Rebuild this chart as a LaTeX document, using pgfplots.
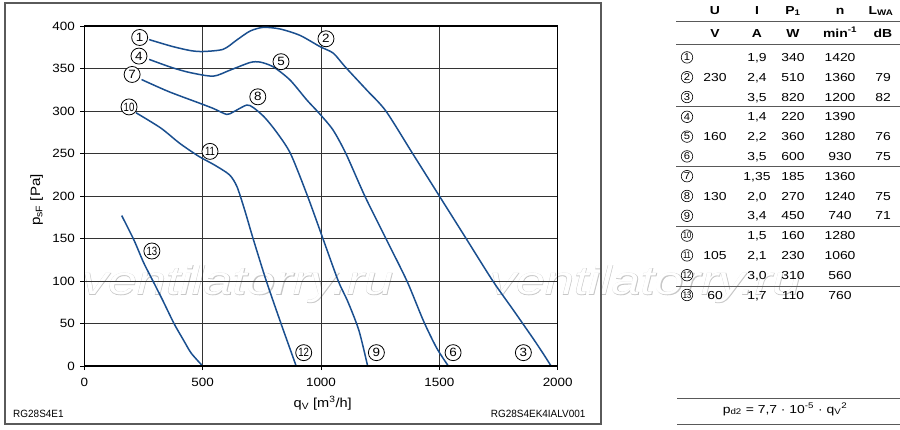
\documentclass[border=0pt]{standalone}
\usepackage{fontspec}
\setmainfont{Liberation Sans}[FakeStretch=1.12]
\newfontfamily\tabfont{Liberation Sans}[FakeStretch=1.2]
\newfontfamily\narrowfont{Liberation Sans}[FakeStretch=0.8]
\newfontfamily\codefont{Liberation Sans}[FakeStretch=0.95]
\newfontfamily\wmfont{Liberation Sans}[FakeStretch=1.3]
\newfontfamily\wmboldfont{Liberation Sans}[FakeStretch=1.3,FakeBold=2]
\usepackage{pgfplots}
\pgfplotsset{compat=1.18}
\definecolor{curve}{HTML}{1A4F8F}
\definecolor{framegray}{HTML}{5A5A5A}

\newcommand\tcircnum[1]{\ifnum#1>9 {\narrowfont\fontsize{9.5}{9.5}\selectfont#1}\else{\fontsize{10}{10}\selectfont#1}\fi}
\newcommand\trow[6]{%
  \pgfmathsetmacro\yc{429-(57.4+(#1-1)*19.8)}%
  \pgfmathsetmacro\yb{\yc-4.2}%
  \node[tcirc] at (687,\yc) {\tcircnum{#1}};
  \node[tx] at (715,\yb) {#2};
  \node[tx] at (757,\yb) {#3};
  \node[tx] at (793,\yb) {#4};
  \node[tx] at (840,\yb) {#5};
  \node[tx] at (883,\yb) {#6};
}

\begin{document}
\begin{tikzpicture}[x=1pt,y=1pt,
  tx/.style={anchor=base, inner sep=0pt, font=\tabfont\fontsize{11.6}{13}\selectfont},
  th/.style={anchor=base, inner sep=0pt, font=\tabfont\bfseries\fontsize{11.6}{13}\selectfont},
  tcirc/.style={circle, draw=black, line width=0.6pt, inner sep=0pt, minimum size=11.5pt},
  clab/.style={circle, draw=black, fill=white, line width=0.8pt, inner sep=0pt, minimum size=16pt, font=\fontsize{12}{12}\selectfont},
  clabb/.style={clab, font=\narrowfont\fontsize{12}{12}\selectfont}]
\useasboundingbox (0,0) rectangle (900,429);
\fill[white] (0,0) rectangle (900,429);

% watermark
\foreach \wx in {82,490}{
  \node[anchor=base west, inner sep=0pt, text=black!22, font=\wmboldfont\itshape\fontsize{40}{40}\selectfont] at (\wx,134.5) {ventilatorry.ru};
  \node[anchor=base west, inner sep=0pt, text=white, font=\wmfont\itshape\fontsize{40}{40}\selectfont] at (\wx,134.5) {ventilatorry.ru};
}

% frame
\draw[framegray, line width=1.6pt] (5,426) rectangle (601,5);

\begin{axis}[
  at={(84.3pt,63pt)}, anchor=south west,
  scale only axis, width=473.4pt, height=340pt,
  xmin=0, xmax=2000, ymin=0, ymax=400,
  xtick={0,500,...,2000}, ytick={0,50,...,400},
  grid=major,
  major grid style={black!80, line width=0.9pt},
  axis line style={black, line width=1.1pt},
  tick align=outside, tick pos=left,
  major tick length=4pt,
  tick style={black, line width=0.9pt},
  ticklabel style={font=\fontsize{12}{14}\selectfont},
  xticklabel style={yshift=-5pt},
  yticklabel style={xshift=-2pt},
  /pgf/number format/assume math mode=true,
  /pgf/number format/1000 sep={},
  clip=false,
]
\addplot[curve, line width=1.5pt, smooth, tension=0.45] coordinates {
(274,384) (371,376) (450,371) (503,370) (587,372.6) (644,383.5) (700,394) (756,398.4) (827,396.5) (911,389) (996,375.7) (1052,368) (1102,352) (1193,324.7) (1274,300) (1387,250) (1500,200) (1613,150) (1726,100) (1812,66) (1897,32) (1940,14) (1972,0)};
\addplot[curve, line width=1.5pt, smooth, tension=0.45] coordinates {
(274,360.7) (371,351) (450,345) (545,341) (615,348) (700,357) (742,357.6) (798,352) (869,336.5) (940,313) (990,298) (1050,278) (1105,250) (1185,200) (1274,150) (1363,100) (1433,53) (1489,21) (1538,0)};
\addplot[curve, line width=1.5pt, smooth, tension=0.45] coordinates {
(242,337) (355,323) (484,309.5) (545,303) (601.6,296) (630,299) (686,307) (714,304) (760,293) (810,276) (871,250) (943,200) (1008,150) (1073,100) (1113,76) (1160,42) (1197,0)};
\addplot[curve, line width=1.5pt, smooth, tension=0.45] coordinates {
(218,298) (323,280) (403,262) (484,246.6) (548,236.8) (613,225) (645,211) (677,184) (713,150) (769,100) (831,50) (895,0)};
\addplot[curve, line width=1.5pt, smooth, tension=0.45] coordinates {
(158,177) (210,148) (250,122) (290,100) (330,78) (379,50) (420,30) (452,15) (500,0)};
\draw[black, line width=2pt] (axis cs:0,0) -- (axis cs:2000,0);

\node[clab] at (axis cs:234,386.5) {1};
\node[clab] at (axis cs:1021,385) {2};
\node[clab] at (axis cs:1855,15.7) {3};
\node[clab] at (axis cs:231,364.6) {4};
\node[clab] at (axis cs:831,358) {5};
\node[clab] at (axis cs:1558,15.7) {6};
\node[clab] at (axis cs:202,343) {7};
\node[clab] at (axis cs:733,316.7) {8};
\node[clab] at (axis cs:1234,15.7) {9};
\node[clabb] at (axis cs:189,304.8) {10};
\node[clabb] at (axis cs:531,252.5) {11};
\node[clabb] at (axis cs:927,15.7) {12};
\node[clabb] at (axis cs:285.5,135.3) {13};
\end{axis}

% axis labels
\node[rotate=90, inner sep=0pt, font=\fontsize{13.5}{14}\selectfont] at (36.7,229) {p\textsubscript{sF} [Pa]};
\node[inner sep=0pt, font=\fontsize{13}{14}\selectfont] at (322.7,26) {q\textsubscript{V} [m\textsuperscript{3}/h]};
\node[anchor=base west, inner sep=0pt, font=\codefont\fontsize{10.5}{12}\selectfont] at (13,12) {RG28S4E1};
\node[anchor=base east, inner sep=0pt, font=\codefont\fontsize{10.5}{12}\selectfont] at (585.7,12) {RG28S4EK4IALV001};

% table
\node[th] at (715,414.8) {U};
\node[th] at (757,414.8) {I};
\node[th] at (793,414.8) {P\textsubscript{1}};
\node[th] at (840,414.8) {n};
\node[th] at (881,414.8) {L\textsubscript{WA}};
\node[th] at (715,391.8) {V};
\node[th] at (757,391.8) {A};
\node[th] at (793,391.8) {W};
\node[th] at (840,391.8) {min\textsuperscript{-1}};
\node[th] at (883,391.8) {dB};
\foreach \ly in {22,45,106.5,167,226.5,286}{
  \draw[black!65, line width=1pt] (676,429-\ly) -- (900,429-\ly);
}
\draw[black!65, line width=1pt] (677,429-398) -- (900,429-398);
\draw[black!65, line width=1pt] (677,429-424) -- (900,429-424);

\trow{1}{}{1,9}{340}{1420}{}
\trow{2}{230}{2,4}{510}{1360}{79}
\trow{3}{}{3,5}{820}{1200}{82}
\trow{4}{}{1,4}{220}{1390}{}
\trow{5}{160}{2,2}{360}{1280}{76}
\trow{6}{}{3,5}{600}{930}{75}
\trow{7}{}{1,35}{185}{1360}{}
\trow{8}{130}{2,0}{270}{1240}{75}
\trow{9}{}{3,4}{450}{740}{71}
\trow{10}{}{1,5}{160}{1280}{}
\trow{11}{105}{2,1}{230}{1060}{}
\trow{12}{}{3,0}{310}{560}{}
\trow{13}{60}{1,7}{110}{760}{}

\node[tx] at (785,16) {p\textsubscript{d2} = 7,7 · 10\textsuperscript{-5} · q\textsubscript{V}\textsuperscript{2}};
\end{tikzpicture}
\end{document}
